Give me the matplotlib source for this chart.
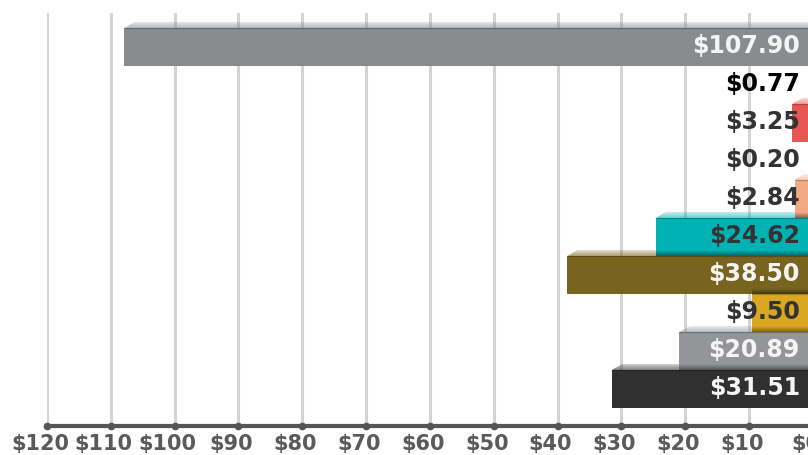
import numpy as np
import matplotlib.pyplot as plt

# Datos (de arriba hacia abajo)
valores = [107.90, 0.77, 3.25, 0.20, 2.84, 24.62, 38.50, 9.50, 20.89, 31.51]
etiquetas = ['$107.90', '$0.77', '$3.25', '$0.20', '$2.84',
             '$24.62', '$38.50', '$9.50', '$20.89', '$31.51']
colores = ['#898c8f', '#0b7fcc', '#e85555', '#d6b25c', '#f2aa84',
           '#00b2b4', '#78641f', '#d9a723', '#939598', '#303030']
col_texto = ['#f4f4f4', '#000000', '#333333', '#333333', '#333333',
             '#333333', '#f4f4f4', '#333333', '#f4f4f4', '#f4f4f4']
ticks = list(range(0, 121, 10))

n = len(valores)
ypos = np.arange(n)[::-1]  # primera barra arriba
ymin, ymax = -0.974, 9.894

fig = plt.figure(figsize=(8.08, 4.55), dpi=100)
ax = fig.add_axes([47 / 808, 29 / 455, 765.8 / 808, 413 / 455])

ax.set_xlim(120, 0)
ax.set_ylim(ymin, ymax)

# barras
ax.barh(ypos, valores, height=1.0, color=colores, zorder=2)

# tapa superior "3D" (gradiente claro) y sombra sobre la barra de arriba
h_cap = 0.17
slant = 1.6
nstrip = 6
for i, (v, yc, c) in enumerate(zip(valores, ypos, colores)):
    top = yc + 0.5
    s = min(slant, v)
    for k in range(nstrip):
        f0 = k / nstrip
        f1 = (k + 1) / nstrip
        y0 = top + h_cap * f0
        y1 = top + h_cap * f1
        a = 0.65 - 0.4 * f1
        ax.fill([v - s * f0, 0, 0, v - s * f1], [y0, y0, y1, y1],
                color=c, alpha=a, lw=0, zorder=1)
    if i > 0:
        w = min(v, valores[i - 1])
        for k in range(nstrip):
            f0 = k / nstrip
            f1 = (k + 1) / nstrip
            y0 = top + h_cap * f0
            y1 = top + h_cap * f1
            a = 0.45 * (1 - f1) + 0.02
            ax.fill([w, 0, 0, w], [y0, y0, y1, y1],
                    color='black', alpha=a, lw=0, zorder=3)
    # borde superior oscuro
    ax.plot([v, 0], [top, top], color='black', alpha=0.25, lw=0.8,
            zorder=2.5, solid_capstyle='butt')

# etiquetas de valor
for yc, t, ct in zip(ypos, etiquetas, col_texto):
    ax.annotate(t, xy=(0, yc), xytext=(-13, 1), textcoords='offset pixels',
                ha='right', va='center', fontsize=17, fontweight='bold',
                color=ct, zorder=5)

# eje x: etiquetas como texto, un poco a la izquierda de cada marca
ax.set_xticks(ticks)
ax.set_xticklabels([])
ax.tick_params(axis='x', length=0)
for t in ticks:
    ax.annotate('$' + str(t), xy=(t, ymin), xytext=(-7, -24),
                textcoords='offset pixels', ha='center', va='baseline',
                fontsize=15, fontweight='bold', color='#5a5a5a',
                annotation_clip=False)

ax.set_yticks([])
ax.grid(axis='x', color='#d4d4d4', lw=2.2, zorder=0)
ax.set_axisbelow(True)
for lado in ['top', 'left', 'right']:
    ax.spines[lado].set_visible(False)
ax.spines['bottom'].set_color('#555555')
ax.spines['bottom'].set_linewidth(3)
ax.plot(ticks, [ymin] * len(ticks), 'o', color='#555555', ms=4.5,
        clip_on=False, zorder=6)

plt.savefig('out.png', dpi=100)
